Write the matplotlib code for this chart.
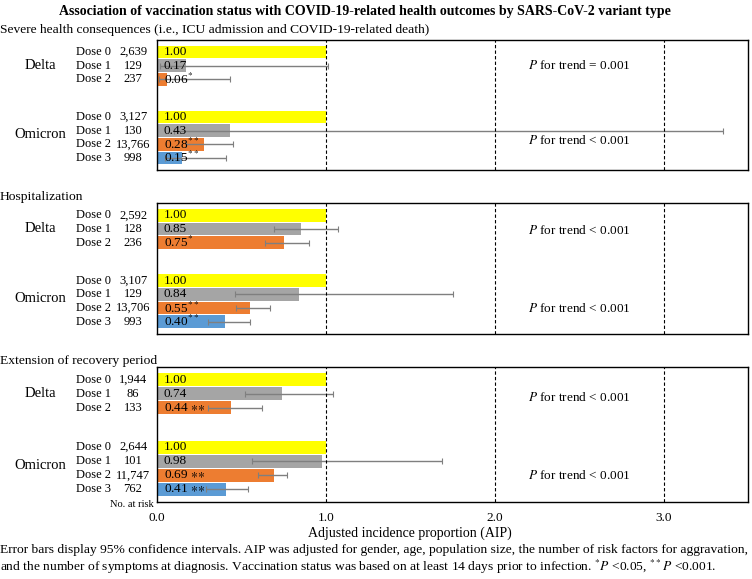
import numpy as np
import matplotlib
matplotlib.use('Agg')
import matplotlib.pyplot as plt
from matplotlib.transforms import blended_transform_factory

plt.rcParams['font.family'] = ['Liberation Serif', 'DejaVu Serif']
plt.rcParams['mathtext.fontset'] = 'stix'

# --- データ ---
outcomes = ['Severe health consequences (i.e., ICU admission and COVID-19-related death)',
            'Hospitalization',
            'Extension of recovery period']
variants = ['Delta', 'Omicron']
doses = ['Dose 0', 'Dose 1', 'Dose 2', 'Dose 0', 'Dose 1', 'Dose 2', 'Dose 3']
bar_colors = ['#FFFF00', '#A5A5A5', '#ED7D31', '#FFFF00', '#A5A5A5', '#ED7D31', '#5B9BD5']

severe_n = ['2,639', '129', '237', '3,127', '130', '13,766', '998']
severe_aip = [1.00, 0.17, 0.06, 1.00, 0.43, 0.28, 0.15]
severe_lo = [np.nan, 0.02, 0.01, np.nan, 0.10, 0.17, 0.05]
severe_hi = [np.nan, 1.01, 0.43, np.nan, 3.35, 0.45, 0.41]
severe_sig = ['', '', '*', '', '', '**', '**']

hosp_n = ['2,592', '128', '236', '3,107', '129', '13,706', '993']
hosp_aip = [1.00, 0.85, 0.75, 1.00, 0.84, 0.55, 0.40]
hosp_lo = [np.nan, 0.69, 0.64, np.nan, 0.46, 0.47, 0.30]
hosp_hi = [np.nan, 1.07, 0.90, np.nan, 1.75, 0.67, 0.55]
hosp_sig = ['', '', '*', '', '', '**', '**']

recov_n = ['1,944', '86', '133', '2,644', '101', '11,747', '762']
recov_aip = [1.00, 0.74, 0.44, 1.00, 0.98, 0.69, 0.41]
recov_lo = [np.nan, 0.52, 0.30, np.nan, 0.56, 0.60, 0.29]
recov_hi = [np.nan, 1.04, 0.62, np.nan, 1.69, 0.77, 0.54]
recov_sig = ['', '', ' **', '', '', ' **', ' **']

trend_text = [['= 0.001', '< 0.001'],
              ['< 0.001', '< 0.001'],
              ['< 0.001', '< 0.001']]

panels = [
    (severe_n, severe_aip, severe_lo, severe_hi, severe_sig),
    (hosp_n, hosp_aip, hosp_lo, hosp_hi, hosp_sig),
    (recov_n, recov_aip, recov_lo, recov_hi, recov_sig),
]

# --- レイアウト (ピクセル) ---
W, H = 752, 579
fig = plt.figure(figsize=(W / 100, H / 100), dpi=100)

rows = np.array([0, 1, 2, 4.8, 5.8, 6.8, 7.8])
panel_px = [(40, 170), (203, 334), (367, 502)]
header_px = [30, 197, 361]
trend_rows = [(1.0, 6.5), (1.15, 6.8), (1.3, 6.8)]
ax_left, ax_right = 157, 748


def fx(px):
    return px / W


def fy(py):
    return 1 - py / H


for i, (top, bot) in enumerate(panel_px):
    n_risk, aip, lo, hi, sig = panels[i]
    ax = fig.add_axes([fx(ax_left), fy(bot), fx(ax_right - ax_left), (bot - top) / H])
    aip = np.array(aip)
    lo = np.array(lo)
    hi = np.array(hi)

    ax.barh(rows, aip, height=0.93, color=bar_colors, zorder=2)
    has_ci = ~np.isnan(lo)
    ax.errorbar(aip[has_ci], rows[has_ci],
                xerr=[aip[has_ci] - lo[has_ci], hi[has_ci] - aip[has_ci]],
                fmt='none', ecolor='#7f7f7f', elinewidth=1.0, capsize=2.5,
                capthick=0.8, zorder=3)

    for xv in [1, 2, 3]:
        ax.axvline(xv, color='black', linestyle=(0, (3, 2)), linewidth=0.8, zorder=4)

    # 値ラベル
    for r, v, s in zip(rows, aip, sig):
        if s.startswith(' '):
            lab = f'{v:.2f} ' + r'$\ast\!\ast$'
        elif s:
            lab = f'{v:.2f}' + '$^{' + s + '}$'
        else:
            lab = f'{v:.2f}'
        ax.text(0.04, r, lab, va='center', ha='left', fontsize=9.5, zorder=5)

    # P for trend
    for t, yr in zip(trend_text[i], trend_rows[i]):
        ax.text(2.5, yr, '$P$ for trend ' + t, ha='center', va='center', fontsize=9.5)

    ax.set_xlim(0, 3.5)
    ax.set_ylim(8.7, -0.9)
    ax.set_yticks([])
    for sp in ax.spines.values():
        sp.set_linewidth(1.0)
        sp.set_color('black')

    if i == 2:
        ax.set_xticks([0, 1, 2, 3])
        ax.set_xticklabels(['0.0', '1.0', '2.0', '3.0'], fontsize=9.5)
        ax.tick_params(axis='x', length=0, pad=7)
    else:
        ax.set_xticks([])

    # 左側のラベル
    tr = blended_transform_factory(fig.transFigure, ax.transData)
    for r, d, n in zip(rows, doses, n_risk):
        ax.text(fx(93), r, d, transform=tr, ha='center', va='center', fontsize=9)
        ax.text(fx(133), r, n, transform=tr, ha='center', va='center', fontsize=9)
    ax.text(fx(40), 1.0, variants[0], transform=tr, ha='center', va='center', fontsize=10.5)
    ax.text(fx(40), 6.1, variants[1], transform=tr, ha='center', va='center', fontsize=10.5)

    fig.text(0.0, fy(header_px[i]), outcomes[i], ha='left', va='center', fontsize=9.7)

    if i == 2:
        ax.text(fx(154), 8.9, 'No. at risk', transform=tr, ha='right', va='center', fontsize=7.5)

fig.text(fx(365), fy(11), 'Association of vaccination status with COVID-19-related health outcomes '
         'by SARS-CoV-2 variant type', ha='center', va='center', fontsize=10, fontweight='bold')
fig.text(fx(410), fy(533), 'Adjusted incidence proportion (AIP)', ha='center', va='center', fontsize=10)

fig.text(0.0, fy(550), 'Error bars display 95% confidence intervals. AIP was adjusted for gender, age, '
         'population size, the number of risk factors for aggravation,',
         ha='left', va='center', fontsize=9.7)
fig.text(0.0, fy(567), 'and the number of symptoms at diagnosis. Vaccination status was based on at least '
         '14 days prior to infection. $^{*}P$ <0.05, $^{**}P$ <0.001.',
         ha='left', va='center', fontsize=9.7)

fig.savefig('out.png', dpi=100)
